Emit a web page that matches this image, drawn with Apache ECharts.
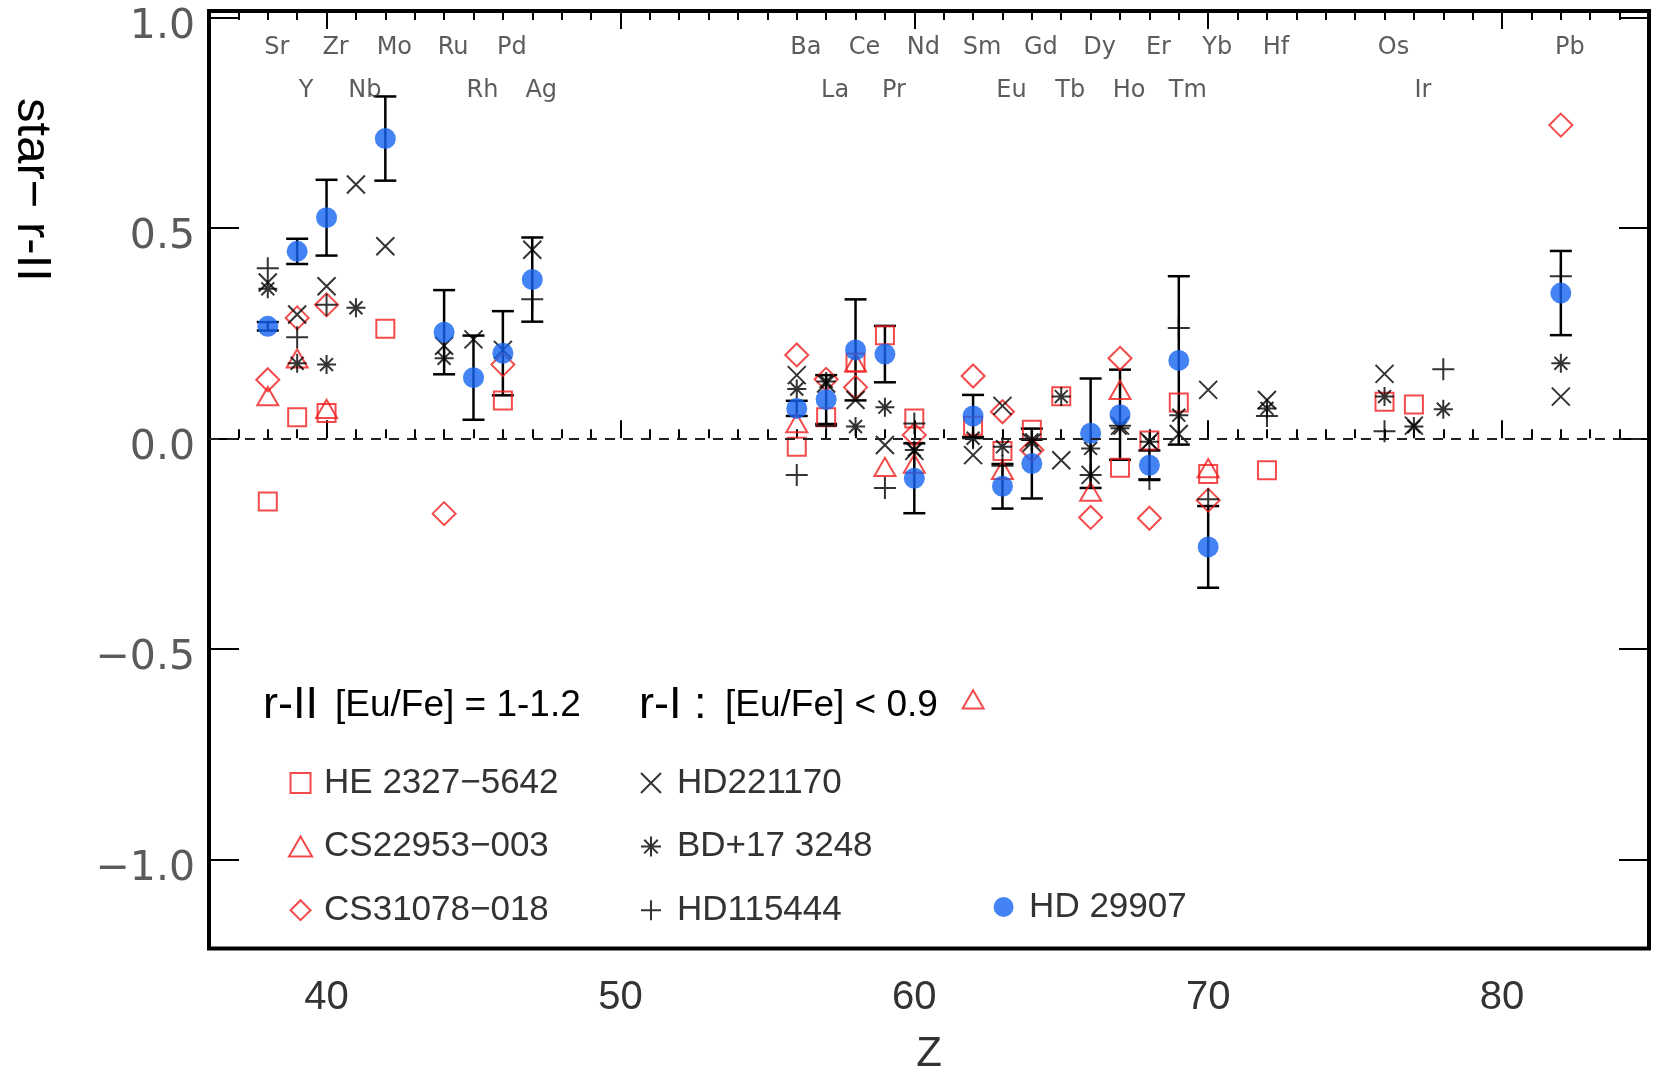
<!DOCTYPE html>
<html><head><meta charset="utf-8">
<script src="https://cdn.jsdelivr.net/npm/echarts@6/dist/echarts.min.js"></script>
<style>html,body{margin:0;padding:0;background:#fff}#c{width:1653px;height:1073px}</style>
</head><body><div id="c"></div>
<script>
// ---------------- data ----------------
const xMajorTicks = [40, 50, 60, 70, 80];
const yTicks = [-1.0, -0.5, 0.0, 0.5, 1.0];

const elemRow1 = ['Sr','Zr','Mo','Ru','Pd','Ba','Ce','Nd','Sm','Gd','Dy','Er','Yb','Hf','Os','Pb'];
const elemRow1Z = [38,40,42,44,46,56,58,60,62,64,66,68,70,72,76,82];
const elemRow2 = ['Y','Nb','Rh','Ag','La','Pr','Eu','Tb','Ho','Tm','Ir'];
const elemRow2Z = [39,41,45,47,57,59,63,65,67,69,77];

// HE 2327-5642 (open square)
const heZ   = [38,39,40,42,46,56,57,58,59,60,62,63,64,65,67,68,69,70,72,76,77];
const heVal = [-0.15,0.05,0.06,0.26,0.09,-0.02,0.05,0.18,0.245,0.047,0.03,-0.03,0.02,0.10,-0.07,-0.005,0.085,-0.085,-0.076,0.087,0.08];
// CS22953-003 (open triangle)
const cs22Z   = [38,39,40,56,58,59,60,62,63,66,67,70];
const cs22Val = [0.10,0.19,0.07,0.036,0.18,-0.068,-0.06,-0.62,-0.075,-0.127,0.115,-0.071];
// CS31078-018 (open diamond)
const cs31Z   = [38,39,40,44,46,56,57,58,60,62,63,64,66,67,68,70,82];
const cs31Val = [0.139,0.286,0.317,-0.179,0.175,0.198,0.14,0.121,0.008,0.148,0.063,-0.028,-0.188,0.19,-0.19,-0.147,0.744];
// HD221170 (x)
const hd221Z   = [38,39,40,41,42,44,45,46,47,56,57,58,59,60,62,63,64,65,66,67,68,69,70,72,76,77,82];
const hd221Val = [0.37,0.294,0.361,0.603,0.456,0.22,0.235,0.21,0.448,0.15,0.13,0.091,-0.016,-0.03,-0.04,0.077,-0.01,-0.052,-0.087,0.03,-0.008,0.01,0.115,0.091,0.153,0.03,0.099];
// BD+17 3248 (asterisk)
const bdZ   = [38,39,40,41,44,56,57,58,59,60,62,63,64,65,66,67,68,69,72,76,77,78,82];
const bdVal = [0.355,0.178,0.175,0.31,0.19,0.117,0.135,0.028,0.074,-0.028,0.0,-0.02,-0.004,0.099,-0.024,0.024,-0.008,0.055,0.071,0.099,0.028,0.069,0.178];
// HD115444 (plus)
const hd115Z   = [38,39,40,47,56,57,59,60,62,63,64,66,67,68,69,70,72,76,78,82];
const hd115Val = [0.404,0.24,0.317,0.33,-0.087,0.03,-0.118,0.035,0.0,-0.065,-0.004,-0.087,0.03,-0.097,0.262,-0.145,0.053,0.017,0.164,0.385];
// HD 29907 (filled circle) with error bars
const hd299Z   = [38,39,40,42,44,45,46,47,56,57,58,59,60,62,63,64,66,67,68,69,70,82];
const hd299Val = [0.266,0.444,0.524,0.712,0.252,0.144,0.202,0.377,0.071,0.092,0.21,0.2,-0.095,0.053,-0.114,-0.06,0.012,0.056,-0.064,0.185,-0.258,0.345];
const hd299Err = [0.01,0.03,0.09,0.10,0.10,0.10,0.10,0.10,0.018,0.058,0.12,0.067,0.083,0.05,0.053,0.083,0.13,0.107,0.035,0.20,0.097,0.10];

// ---------------- build ----------------
const RED = '#f01e1e', BLUE = '#1464f0', INK = '#000';
const symSquare = 'path://M0,0L10,0L10,10L0,10Z';
const symTri = 'path://M5,0L10,8.66L0,8.66Z';
const symDiam = 'path://M5,0L10,5L5,10L0,5Z';
const symX = 'path://M0,0L10,10M10,0L0,10';
const symPlus = 'path://M5,0L5,10M0,5L10,5';
const symAst = 'path://M5,0L5,10M0,5L10,5M1.6,1.6L8.4,8.4M8.4,1.6L1.6,8.4';

const pairs = (zs, vs) => zs.map((z, i) => [z, vs[i]]);
const xMinorTicks = [];
for (let z = 37; z <= 84; z++) if (z % 10 !== 0) xMinorTicks.push(z);

const ROW1 = 0.9265, ROW2 = 0.8255;
const elemData = elemRow1.map((n, i) => ({name: n, value: [elemRow1Z[i], ROW1]}))
  .concat(elemRow2.map((n, i) => ({name: n, value: [elemRow2Z[i], ROW2]})));
const errData = hd299Z.map((z, i) => [z, hd299Val[i] - hd299Err[i], hd299Val[i] + hd299Err[i]]);

const fmtY = v => (v < 0 ? '\u2212' : '') + Math.abs(v).toFixed(1);
const noEmph = {disabled: true};

function marker(name, zs, vs, symbol, size, color) {
  return {name, type: 'scatter', data: pairs(zs, vs), symbol, symbolSize: size, symbolKeepAspect: true,
    itemStyle: {color: 'rgba(0,0,0,0)', borderColor: color, borderWidth: 2}, emphasis: noEmph, silent: true};
}

const names = {he: 'HE 2327\u22125642', cs22: 'CS22953\u2212003', cs31: 'CS31078\u2212018',
  hd221: 'HD221170', bd: 'BD+17 3248', hd115: 'HD115444', hd299: 'HD 29907'};

const tickBase = {show: true, inside: true, lineStyle: {color: INK, width: 2}};
const axisCommonX = {type: 'value', min: 36, max: 85, splitLine: {show: false}, axisLine: {show: false}};
const axisCommonY = {type: 'value', min: -1.212, max: 1.015, splitLine: {show: false}, axisLine: {show: false}};

const legendText = {fontSize: 35, lineHeight: 20, fontFamily: 'Liberation Sans', color: '#333'};

const option = {
  animation: false,
  grid: {left: 209, right: 4, top: 11, bottom: 124.5, outerBoundsMode: 'none', containLabel: false,
    show: true, borderColor: INK, borderWidth: 4, backgroundColor: 'transparent'},
  xAxis: [
    Object.assign({}, axisCommonX, {position: 'bottom',
      axisTick: Object.assign({}, tickBase, {length: 18, customValues: xMajorTicks}),
      axisLabel: {customValues: xMajorTicks, margin: 29, fontSize: 40, fontFamily: 'Liberation Sans', color: '#333'},
      name: 'Z', nameLocation: 'middle', nameGap: 85,
      nameTextStyle: {fontSize: 42, fontFamily: 'Liberation Sans', color: '#333'}}),
    Object.assign({}, axisCommonX, {position: 'bottom',
      axisTick: Object.assign({}, tickBase, {length: 9, customValues: xMinorTicks}), axisLabel: {show: false}}),
    Object.assign({}, axisCommonX, {position: 'top',
      axisTick: Object.assign({}, tickBase, {length: 18, customValues: xMajorTicks}), axisLabel: {show: false}}),
    Object.assign({}, axisCommonX, {position: 'top',
      axisTick: Object.assign({}, tickBase, {length: 9, customValues: xMinorTicks}), axisLabel: {show: false}})
  ],
  yAxis: [
    Object.assign({}, axisCommonY, {position: 'left',
      axisTick: Object.assign({}, tickBase, {length: 30, customValues: yTicks}),
      axisLabel: {customValues: yTicks, formatter: fmtY, margin: 14, fontSize: 41, fontFamily: 'DejaVu Sans', color: '#5a5a5a',
        verticalAlign: 'top', lineHeight: 20}}),
    Object.assign({}, axisCommonY, {position: 'right',
      axisTick: Object.assign({}, tickBase, {length: 30, customValues: yTicks}), axisLabel: {show: false}})
  ],
  legend: [
    {data: [names.he, names.cs22, names.cs31], orient: 'vertical', left: 288, top: 765.5, padding: 0,
      itemWidth: 37, itemHeight: 20, itemGap: 28.6, selectedMode: false, textStyle: legendText},
    {data: [names.hd221, names.bd, names.hd115], orient: 'vertical', left: 640, top: 765.5, padding: 0,
      itemWidth: 42, itemHeight: 20, itemGap: 28.6, selectedMode: false, textStyle: legendText},
    {data: [names.hd299], orient: 'vertical', left: 993.6, top: 889.5, padding: 0,
      itemWidth: 41, itemHeight: 20, selectedMode: false, textStyle: legendText}
  ],
  graphic: [
    {type: 'text', x: 32, y: 190, rotation: -Math.PI / 2,
      style: {text: 'star\u2212 r-II', fontSize: 49, fontFamily: 'Liberation Sans', fill: '#000', textAlign: 'center', textVerticalAlign: 'middle'}},
    {type: 'text', x: 263, y: 706,
      style: {text: 'r-II', fontSize: 45, fontFamily: 'Liberation Sans', fill: '#000', textAlign: 'left', textVerticalAlign: 'middle'}},
    {type: 'text', x: 335, y: 706,
      style: {text: '[Eu/Fe] = 1-1.2', fontSize: 37, fontFamily: 'Liberation Sans', fill: '#000', textAlign: 'left', textVerticalAlign: 'middle'}},
    {type: 'text', x: 639, y: 706,
      style: {text: 'r-I :', fontSize: 45, fontFamily: 'Liberation Sans', fill: '#000', textAlign: 'left', textVerticalAlign: 'middle'}},
    {type: 'text', x: 725, y: 706,
      style: {text: '[Eu/Fe] < 0.9', fontSize: 37, fontFamily: 'Liberation Sans', fill: '#000', textAlign: 'left', textVerticalAlign: 'middle'}}
  ],
  series: [
    Object.assign(marker(names.he, heZ, heVal, symSquare, 18, RED), {
      markLine: {silent: true, symbol: 'none', label: {show: false},
        lineStyle: {color: '#222', width: 2, type: [10, 8]}, data: [{yAxis: 0}]}}),
    marker(names.cs22, cs22Z, cs22Val, symTri, 21, RED),
    marker(names.cs31, cs31Z, cs31Val, symDiam, 23, RED),
    marker(names.hd221, hd221Z, hd221Val, symX, 18, INK),
    marker(names.bd, bdZ, bdVal, symAst, 19, INK),
    marker(names.hd115, hd115Z, hd115Val, symPlus, 22, INK),
    {name: names.hd299, type: 'scatter', data: pairs(hd299Z, hd299Val), symbol: 'circle', symbolSize: 21,
      itemStyle: {color: BLUE, borderColor: BLUE, borderWidth: 0}, emphasis: noEmph, silent: true},
    {name: 'errors', type: 'custom', data: errData, silent: true,
      renderItem: function (params, api) {
        const x = api.value(0);
        const top = api.coord([x, api.value(2)]);
        const bot = api.coord([x, api.value(1)]);
        const hw = 11;
        const st = {stroke: INK, lineWidth: 2.5};
        return {type: 'group', children: [
          {type: 'line', shape: {x1: top[0], y1: top[1], x2: bot[0], y2: bot[1]}, style: st},
          {type: 'line', shape: {x1: top[0] - hw, y1: top[1], x2: top[0] + hw, y2: top[1]}, style: st},
          {type: 'line', shape: {x1: bot[0] - hw, y1: bot[1], x2: bot[0] + hw, y2: bot[1]}, style: st}
        ]};
      }},
    {name: 'elements', type: 'scatter', data: elemData, symbolSize: 0.1, silent: true,
      itemStyle: {color: 'rgba(0,0,0,0)'},
      label: {show: true, position: 'inside', offset: [9, 0], formatter: p => p.name,
        fontSize: 24, fontFamily: 'DejaVu Sans', color: '#333'}}
  ]
};
const chart = echarts.init(document.getElementById('c'));
chart.setOption(option);
</script></body></html>
